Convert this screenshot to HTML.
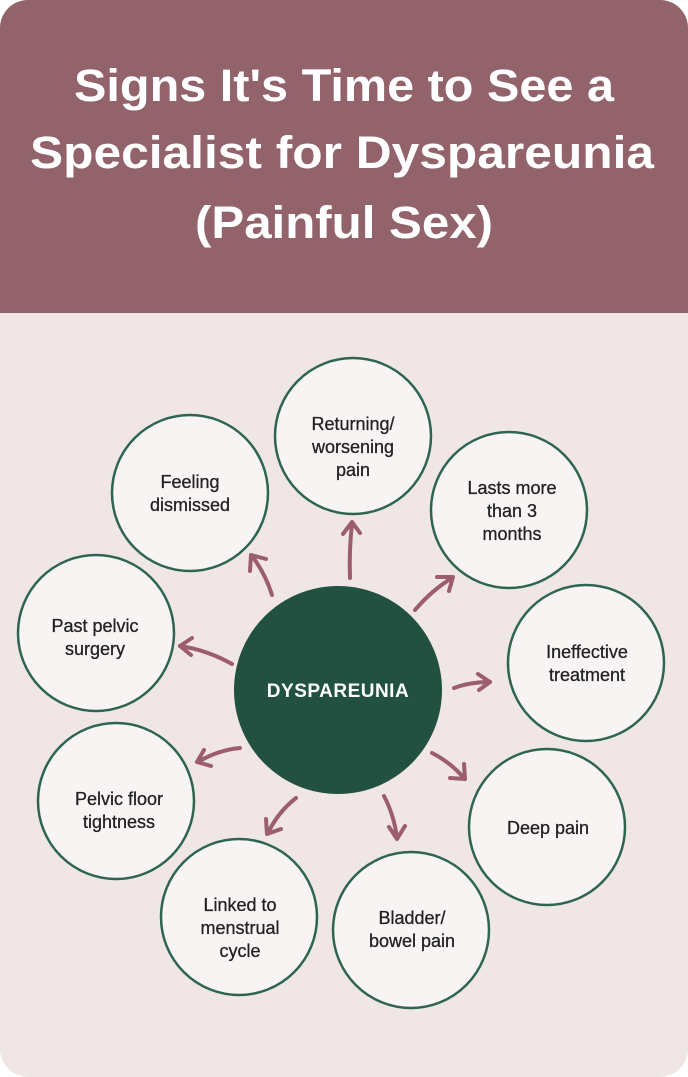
<!DOCTYPE html>
<html><head><meta charset="utf-8"><style>
html,body{margin:0;padding:0;background:#fff;}
svg{display:block;}
</style></head><body>
<svg width="688" height="1077" viewBox="0 0 688 1077" xmlns="http://www.w3.org/2000/svg">
<defs>
<clipPath id="card"><rect x="0" y="0" width="688" height="1077" rx="28" ry="28"/></clipPath>
</defs>
<g clip-path="url(#card)">
<rect x="0" y="0" width="688" height="1077" fill="#efe6e5"/>
<rect x="0" y="0" width="688" height="313" fill="#93636b"/>
</g>
<g font-family="Liberation Sans, sans-serif" font-weight="bold" fill="#fff" font-size="45" text-anchor="middle">
<text x="344" y="101" textLength="540" lengthAdjust="spacingAndGlyphs">Signs It's Time to See a</text>
<text x="342" y="168" textLength="624" lengthAdjust="spacingAndGlyphs">Specialist for Dyspareunia</text>
<text x="344" y="238" textLength="298" lengthAdjust="spacingAndGlyphs">(Painful Sex)</text>
</g>
<g fill="none" stroke="#9c5d6c" stroke-width="4" stroke-linecap="round" stroke-linejoin="round">
<path d="M350 578 Q349 550 352 524"/><path d="M343 534 L352 522 L360 533"/>
<path d="M272 595 Q265 573 252 556"/><path d="M250 571 L251 555 L266 559"/>
<path d="M415 610 Q432 590 452 578"/><path d="M437 577 L453 577 L449 591"/>
<path d="M232 664 Q207 650 180 646"/><path d="M192 638 L180 646 L191 655"/>
<path d="M454 688 Q470 682 490 682"/><path d="M478 674 L490 682 L479 690"/>
<path d="M432 753 Q450 762 464 778"/><path d="M464 764 L465 779 L450 778"/>
<path d="M384 796 Q394 815 397 838"/><path d="M389 827 L397 839 L405 826"/>
<path d="M296 798 Q278 812 268 833"/><path d="M266 819 L267 834 L281 829"/>
<path d="M240 748 Q218 750 198 762"/><path d="M204 750 L197 762 L211 766"/>
</g>
<g fill="#f9f4f4" stroke="#2e6552" stroke-width="2.5">
<circle cx="353" cy="436" r="78"/>
<circle cx="190" cy="493" r="78"/>
<circle cx="509" cy="510" r="78"/>
<circle cx="96" cy="633" r="78"/>
<circle cx="586" cy="663" r="78"/>
<circle cx="116" cy="801" r="78"/>
<circle cx="547" cy="827" r="78"/>
<circle cx="239" cy="917" r="78"/>
<circle cx="411" cy="930" r="78"/>
</g>
<circle cx="338" cy="690" r="104" fill="#225142"/>
<text x="338" y="697" font-family="Liberation Sans, sans-serif" font-weight="bold" font-size="19" fill="#fff" text-anchor="middle" letter-spacing="0.5">DYSPAREUNIA</text>
<g font-family="Liberation Sans, sans-serif" font-size="18" fill="#222" text-anchor="middle" stroke="#222" stroke-width="0.3">
<text x="353" y="430">Returning/</text><text x="353" y="453">worsening</text><text x="353" y="476">pain</text>
<text x="190" y="488">Feeling</text><text x="190" y="511">dismissed</text>
<text x="512" y="494">Lasts more</text><text x="512" y="517">than 3</text><text x="512" y="540">months</text>
<text x="95" y="632">Past pelvic</text><text x="95" y="655">surgery</text>
<text x="587" y="658">Ineffective</text><text x="587" y="681">treatment</text>
<text x="119" y="805">Pelvic floor</text><text x="119" y="828">tightness</text>
<text x="548" y="834">Deep pain</text>
<text x="240" y="911">Linked to</text><text x="240" y="934">menstrual</text><text x="240" y="957">cycle</text>
<text x="412" y="924">Bladder/</text><text x="412" y="947">bowel pain</text>
</g>
</svg>
</body></html>
